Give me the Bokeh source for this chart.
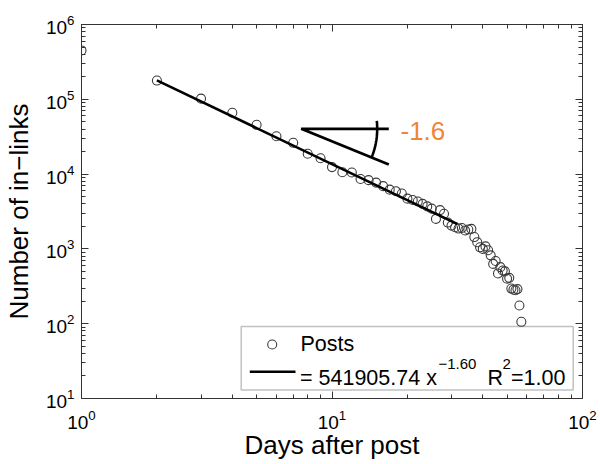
from bokeh.plotting import figure
from bokeh.models import (Range1d, LogAxis, FixedTicker, Label, BoxAnnotation,
                          CustomJSTickFormatter)
from bokeh.embed import file_html
from bokeh.resources import INLINE
import numpy as np

# ---------------- data ----------------
days = list(range(1, 58))
links = [450000, 178000, 102000, 66000, 45600, 32100, 26200, 18700, 16300, 12400,
         10600, 10500, 8600, 8300, 7700, 6900, 6200, 5900, 5500, 4700,
         4500, 4300, 4000, 3700, 3450, 2520, 3300, 2950, 2250, 2050,
         1950, 1870, 1900, 1760, 1820, 1850, 1440, 1230, 1050, 1000,
         1080, 960, 820, 630, 690, 470, 570, 515, 500, 400,
         410, 295, 285, 280, 290, 175, 106]
fit_a = 541905.74
fit_b = -1.60
fit_days = [2, 31.7]
x_major = [1, 10, 100]
y_major = [10, 100, 1000, 10000, 100000, 1000000]
legend_posts = "Posts"
legend_fit = "= 541905.74 x"
legend_exp = "\u22121.60"
slope_text = "-1.6"

FONT = "Liberation Sans"
W, H = 600, 464
FL, FR, FT, FB = 81, 582, 24, 398   # frame edges in page pixels

def to_data(px, py):
    x = 10 ** (0 + 2 * (px - FL) / (FR - FL))
    y = 10 ** (1 + 5 * (FB - py) / (FB - FT))
    return x, y

p = figure(width=W, height=H, x_axis_type="log", y_axis_type="log",
           x_range=Range1d(1, 100), y_range=Range1d(10, 1e6),
           output_backend="svg", toolbar_location=None,
           min_border_left=FL, min_border_right=W - FR,
           min_border_top=FT, min_border_bottom=H - FB)
p.xgrid.visible = False
p.ygrid.visible = False
p.outline_line_color = "#333333"
p.background_fill_color = "white"

x_minor = [m * 10 ** k for k in range(0, 2) for m in range(2, 10)]
y_minor = [m * 10 ** k for k in range(1, 6) for m in range(2, 10)]

def style_axis(ax, ticks, minor, show_labels):
    ax.ticker = FixedTicker(ticks=ticks, minor_ticks=minor)
    if not show_labels:
        ax.formatter = CustomJSTickFormatter(code="return ''")
        ax.major_label_text_font_size = "0px"
        ax.major_label_standoff = 0
    else:
        ax.major_label_text_font = FONT
        ax.major_label_text_font_size = "19px"
        ax.major_label_text_color = "black"
    ax.major_tick_in = 7
    ax.major_tick_out = 0
    ax.minor_tick_in = 4
    ax.minor_tick_out = 0
    ax.axis_line_color = "#333333"
    ax.major_tick_line_color = "#333333"
    ax.minor_tick_line_color = "#333333"
    ax.axis_label_text_font = FONT
    ax.axis_label_text_font_style = "normal"
    ax.axis_label_text_font_size = "26px"
    ax.axis_label_text_color = "black"

style_axis(p.below[0], x_major, x_minor, True)
style_axis(p.left[0], y_major, y_minor, True)
p.below[0].major_label_standoff = 11
p.left[0].major_label_standoff = 7
p.below[0].axis_label = "Days after post"
p.below[0].axis_label_standoff = -2
p.left[0].axis_label = "Number of in\u2212links"
p.left[0].axis_label_standoff = 9

top_ax = LogAxis()
style_axis(top_ax, x_major, x_minor, False)
p.add_layout(top_ax, "above")
right_ax = LogAxis()
style_axis(right_ax, y_major, y_minor, False)
p.add_layout(right_ax, "right")

# ---------------- legend box (underlay) ----------------
bl, bt = to_data(240.7, 326)
br, bb = to_data(572.7, 389.5)
p.add_layout(BoxAnnotation(left=bl, right=br, top=bt, bottom=bb, fill_color="white",
                           fill_alpha=1, line_color="#333333", line_width=1.5,
                           level="underlay"))

# ---------------- data ----------------
p.scatter(days, links, marker="circle", size=9, fill_color=None,
          line_color="#3a3a3a", line_width=1.1)
fit_vals = [fit_a * d ** fit_b for d in fit_days]
p.line(fit_days, fit_vals, line_color="black", line_width=2.6)

# ---------------- slope annotation ----------------
vx, vy = 300.7, 128.3
tri = [(388.3, 128.3), (vx, vy), (388.3, 164.0)]
tri_d = [to_data(a, b) for a, b in tri]
p.line([t[0] for t in tri_d], [t[1] for t in tri_d], line_color="black", line_width=2.8)
ang = np.radians(np.linspace(-6, 22.2, 25))
arc_d = [to_data(vx + 76 * np.cos(a), vy + 76 * np.sin(a)) for a in ang]
p.line([t[0] for t in arc_d], [t[1] for t in arc_d], line_color="black", line_width=2.6)

def lab(text, px, py, size, align="left", color="black"):
    p.add_layout(Label(x=1, y=10, x_offset=px - FL, y_offset=FB - py, text=text,
                       text_font=FONT, text_font_size=size, text_color=color,
                       text_align=align, text_baseline="middle"))

lab(slope_text, 400, 130, "26px", color="#EF8537")

# ---------------- legend contents ----------------
sx, sy = to_data(271.7, 344)
p.scatter([sx], [sy], marker="circle", size=9, fill_color=None,
          line_color="#3a3a3a", line_width=1.1)
lx1, ly = to_data(249.3, 371.3)
lx2, _ = to_data(295, 371.3)
p.line([lx1, lx2], [ly, ly], line_color="black", line_width=2.6)
lab(legend_posts, 300, 343.5, "21.5px")
lab(legend_fit, 299.5, 377, "21.5px")
lab(legend_exp, 438, 363, "15px")
lab("R", 487, 377, "21.5px")
lab("2", 502, 363, "15px")
lab("=1.00", 510.5, 377, "21.5px")

open("out.html", "w").write(file_html(p, INLINE))
